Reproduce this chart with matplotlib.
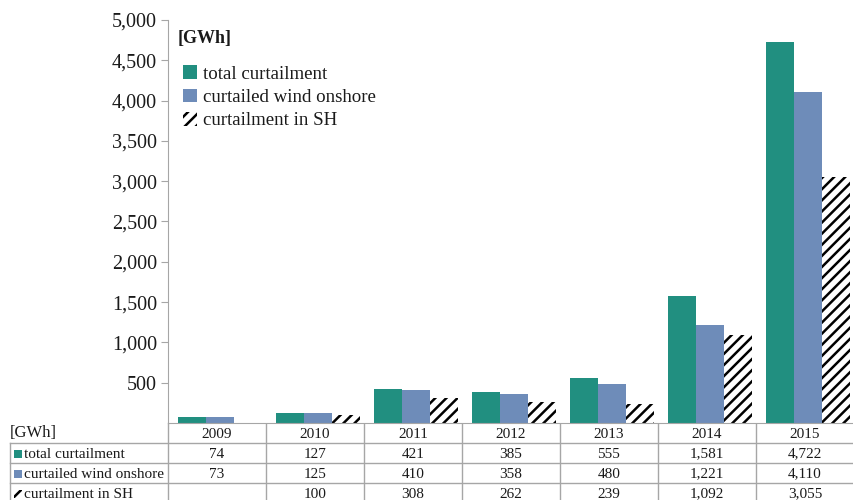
import numpy as np
import matplotlib
matplotlib.use('Agg')
import matplotlib.pyplot as plt
from matplotlib.patches import Rectangle

plt.rcParams['font.family'] = ['Liberation Serif', 'DejaVu Serif']
plt.rcParams['hatch.linewidth'] = 1.8

years = ['2009', '2010', '2011', '2012', '2013', '2014', '2015']
total_curt = [74, 127, 421, 385, 555, 1581, 4722]
wind_onshore = [73, 125, 410, 358, 480, 1221, 4110]
curt_sh = [np.nan, 100, 308, 262, 239, 1092, 3055]
series_names = ['total curtailment', 'curtailed wind onshore', 'curtailment in SH']
yticks = [500, 1000, 1500, 2000, 2500, 3000, 3500, 4000, 4500, 5000]

green = '#218f80'
blue = '#6e8cb9'
grid_c = '#a6a6a6'
txt_c = '#1a1a1a'

W, H = 854, 500
fig = plt.figure(figsize=(W / 100, H / 100), dpi=100)

# pixel layout of the plot area
x0, x1 = 168, 854
ytop, ybase = 20, 423
ax = fig.add_axes([x0 / W, 1 - ybase / H, (x1 - x0) / W, (ybase - ytop) / H])

n = len(years)
x = np.arange(n)
bw = 0.285
ax.bar(x - bw + 0.03, total_curt, bw, color=green, label=series_names[0])
ax.bar(x + 0.03, wind_onshore, bw, color=blue, label=series_names[1])
sh = np.array(curt_sh, dtype=float)
ok = ~np.isnan(sh)
ax.bar(x[ok] + bw + 0.03, sh[ok], bw, color='white', edgecolor='black',
       hatch='///', linewidth=0, label=series_names[2])

ax.set_xlim(-0.5, n - 0.5)
ax.set_ylim(0, 5000)
ax.set_yticks(yticks)
ax.set_yticklabels([f'{v:,}' for v in yticks], fontsize=14.5, color=txt_c)
ax.set_xticks([])
for s in ['top', 'right']:
    ax.spines[s].set_visible(False)
ax.spines['left'].set_color(grid_c)
ax.spines['bottom'].set_color(grid_c)
ax.tick_params(axis='y', color=grid_c, length=5, pad=3)

ax.text(0.014, 0.975, '[GWh]', transform=ax.transAxes, fontsize=13,
        fontweight='bold', color=txt_c, va='top', ha='left')
leg = ax.legend(loc='upper left', bbox_to_anchor=(0.0, 0.925), frameon=False,
                fontsize=13.6, handlelength=0.75, handleheight=0.75,
                handletextpad=0.3, labelspacing=0.3, borderaxespad=0.4)
for t in leg.get_texts():
    t.set_color(txt_c)

# data table below the chart, drawn in pixel coordinates
tb = fig.add_axes([0, 0, 1, 1], zorder=-1)
tb.set_xlim(0, W)
tb.set_ylim(H, 0)
tb.axis('off')

row_h = 20
rows_y = [ybase + row_h * i for i in range(5)]
col_w = (x1 - x0) / n
col_x = [x0 + col_w * i for i in range(n + 1)]
left = 10

for yy in rows_y[1:4]:
    tb.plot([left, W], [yy, yy], color=grid_c, lw=1)
tb.plot([left, left], [rows_y[1], H], color=grid_c, lw=1)
for cx in col_x[:-1]:
    tb.plot([cx, cx], [ybase, H], color=grid_c, lw=1)

tb.text(left, rows_y[0] + row_h / 2, '[GWh]', fontsize=12, color=txt_c,
        va='center', ha='left')
for i, yr in enumerate(years):
    tb.text(x0 + col_w * (i + 0.5), rows_y[0] + row_h / 2 + 1, yr, fontsize=11,
            color=txt_c, va='center', ha='center')

table_vals = [total_curt, wind_onshore, curt_sh]
swatches = [dict(facecolor=green, edgecolor='none'),
            dict(facecolor=blue, edgecolor='none'),
            dict(facecolor='white', edgecolor='black', hatch='///', lw=0)]
for r, (name, vals, sw) in enumerate(zip(series_names, table_vals, swatches)):
    yc = rows_y[r + 1] + row_h / 2 + 1
    tb.add_patch(Rectangle((14, yc - 4), 8, 8, **sw))
    tb.text(24.5, yc, name, fontsize=11, color=txt_c, va='center', ha='left')
    for i, v in enumerate(vals):
        if np.isnan(v):
            continue
        tb.text(x0 + col_w * (i + 0.5), yc, f'{int(v):,}', fontsize=11,
                color=txt_c, va='center', ha='center')

fig.savefig('out.png', dpi=100)
